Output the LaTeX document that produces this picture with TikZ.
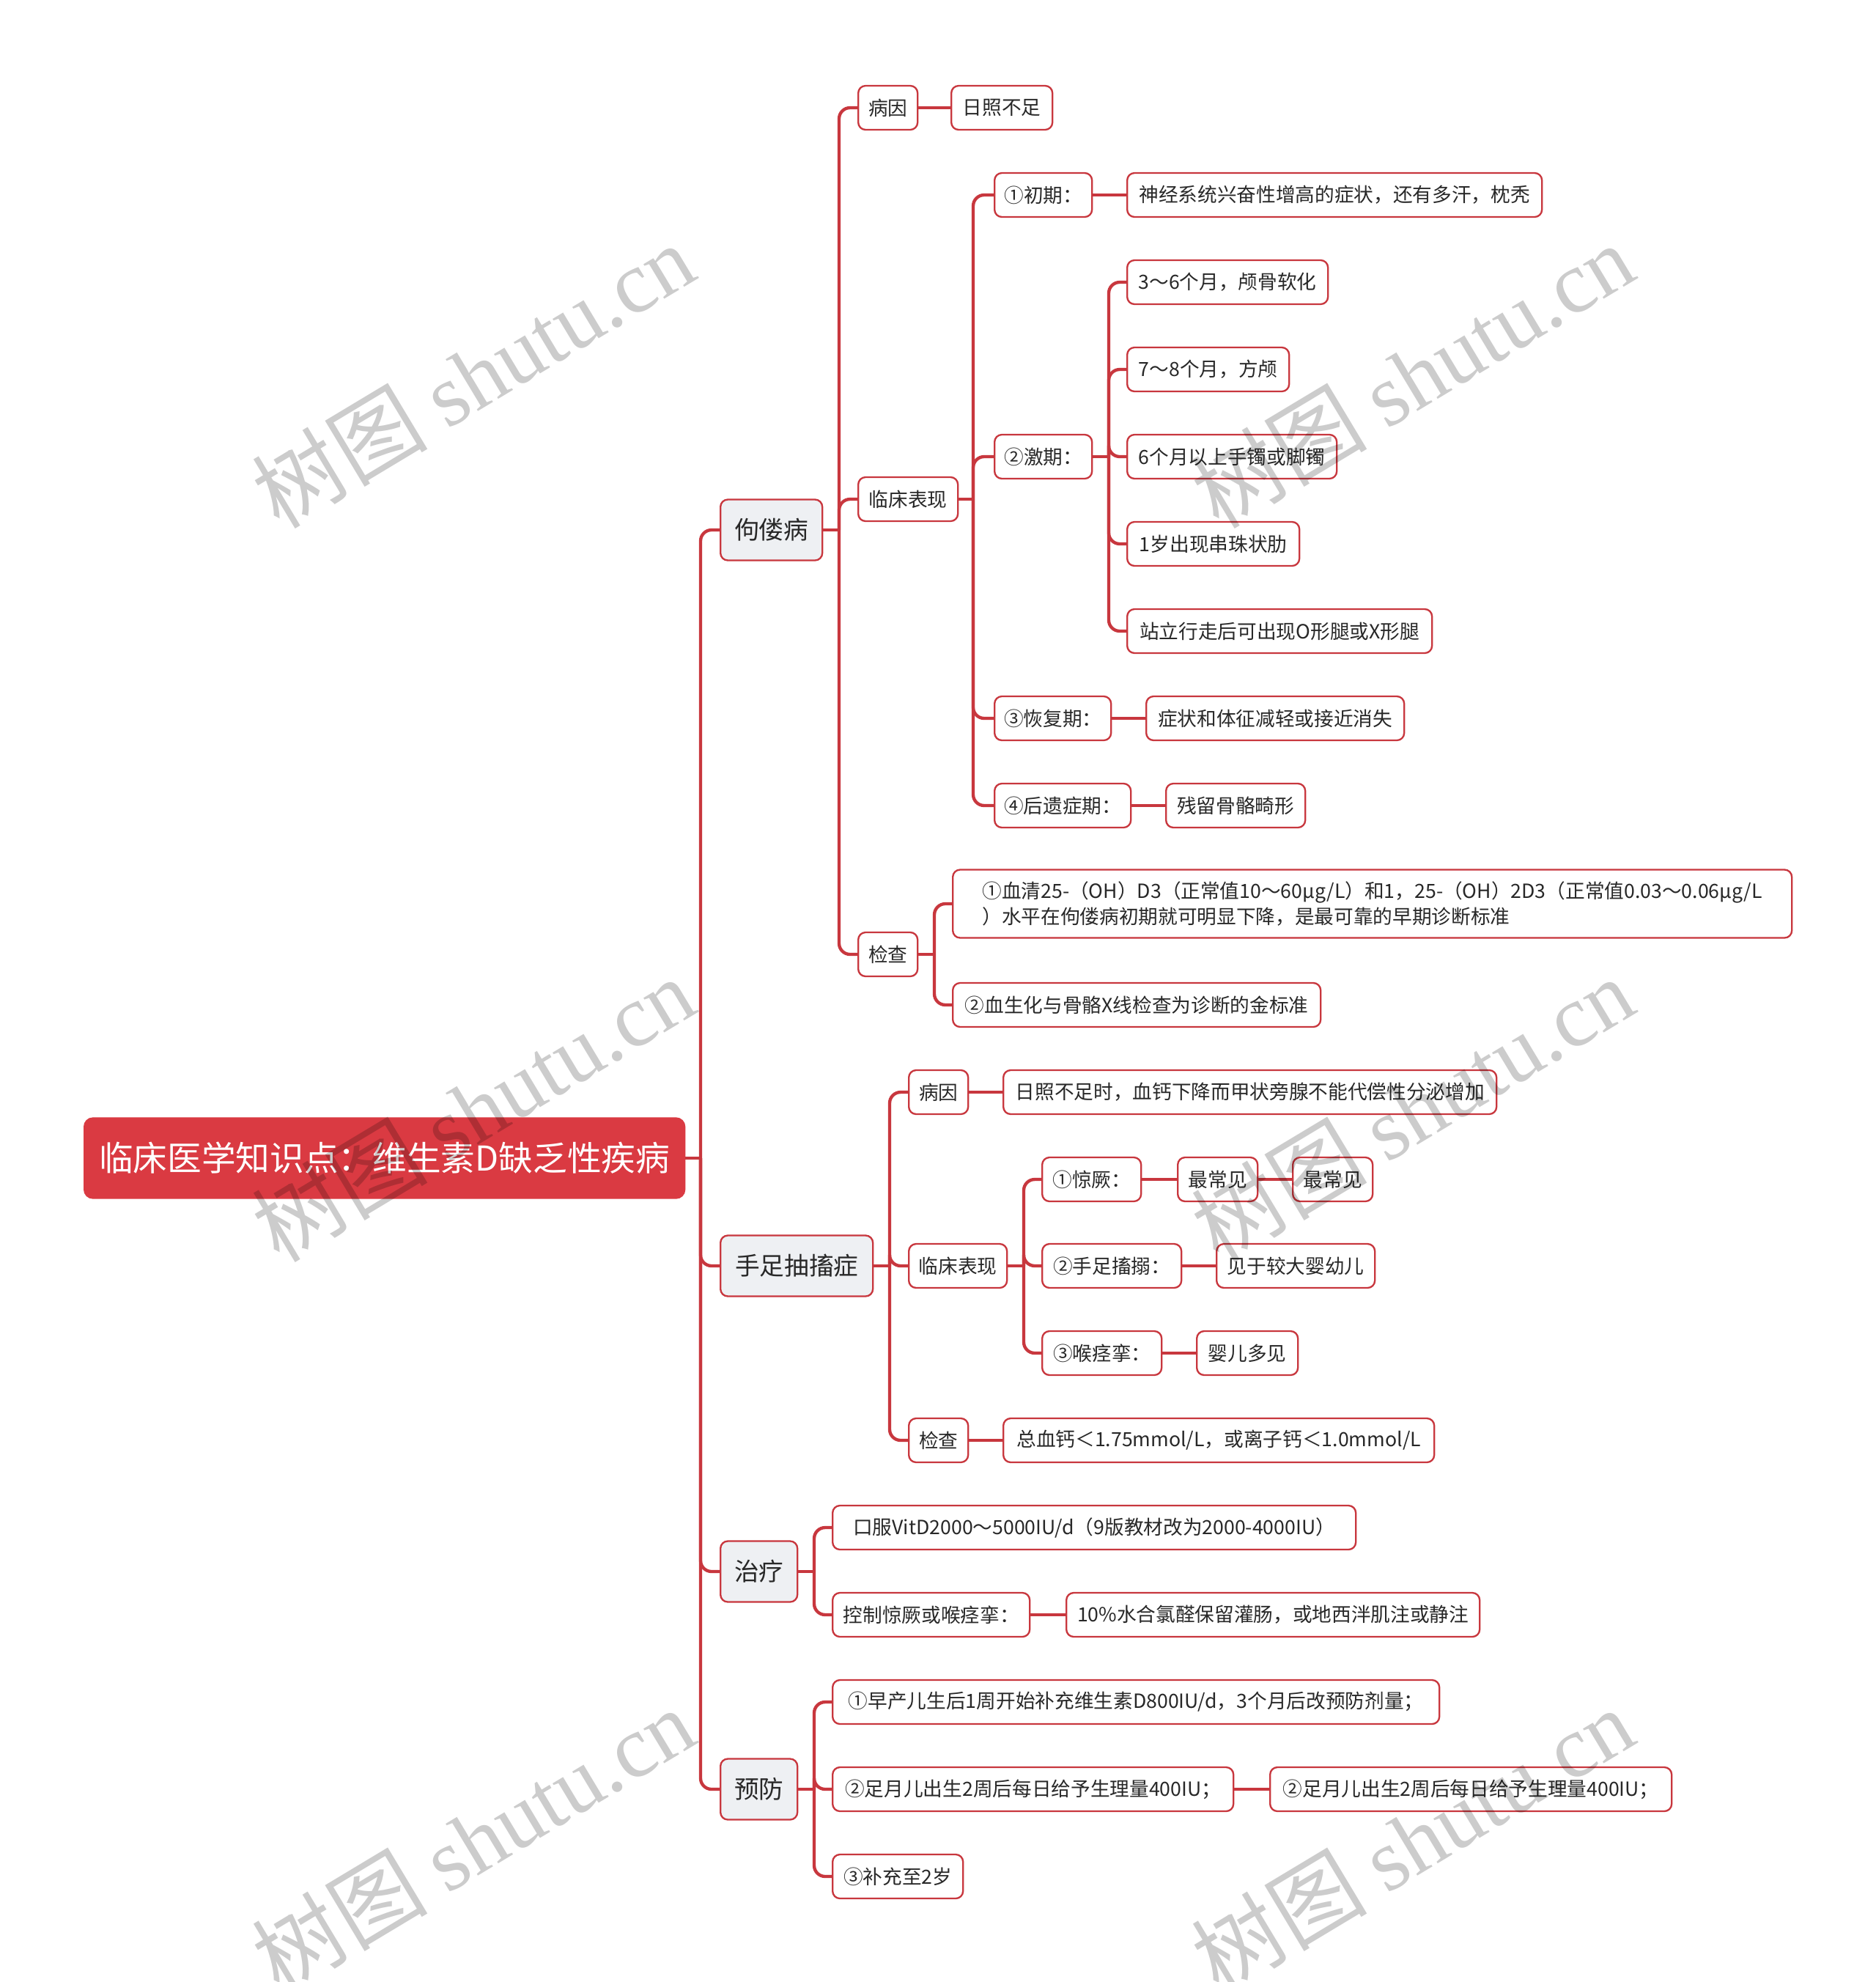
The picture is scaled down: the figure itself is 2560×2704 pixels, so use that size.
\documentclass[tikz,border=0pt]{standalone}
\usepackage{fontspec}
\setmainfont{Noto Sans CJK SC}
\newfontfamily\wmlat{Liberation Serif}
\newfontfamily\wmcjk{Noto Sans CJK SC}
\definecolor{lred}{RGB}{200,55,62}
\definecolor{rootred}{RGB}{218,58,66}
\definecolor{lvlgray}{RGB}{238,240,243}
\definecolor{txt}{RGB}{40,40,40}
\begin{document}
\begin{tikzpicture}[x=0.3pt,y=-0.3pt,
  conn/.style={draw=lred,line width=1.3pt,rounded corners=4.5pt},
  leaf/.style={draw=lred,line width=0.7pt,rounded corners=3pt,fill=white,text=txt,
    font=\fontsize{8}{10.35}\selectfont,minimum height=18pt,inner xsep=0pt,anchor=west},
  lvl/.style={leaf,fill=lvlgray,font=\fontsize{10.1}{12}\selectfont,minimum height=24.9pt},
  bw/.style={minimum width=#1*0.3pt},
  wm/.style={text=black,text opacity=0.2,rotate=31,font=\fontsize{36}{40}\selectfont}
]
\useasboundingbox (0,0) rectangle (2560,2704);
\fill[white] (0,0) rectangle (2560,2704);

% root
\node[draw=rootred,fill=rootred,text=white,rounded corners=3.5pt,line width=0.7pt,
  font=\fontsize{14}{16}\selectfont,minimum height=32.7pt,bw=819,anchor=west,inner xsep=0pt]
  (root) at (114,1580) {临床医学知识点：维生素D缺乏性疾病};

% level 1
\node[lvl,bw=139] (g) at (982,723) {佝偻病};
\node[lvl,bw=208] (s) at (982,1727) {手足抽搐症};
\node[lvl,bw=105] (z) at (982,2144) {治疗};
\node[lvl,bw=105] (y) at (982,2441) {预防};

% 佝偻病
\node[leaf,bw=81] (g1) at (1170,147) {病因};
\node[leaf,bw=138] (g1a) at (1297,147) {日照不足};
\node[leaf,bw=136] (g2) at (1170,681) {临床表现};
\node[leaf,bw=133] (g2a) at (1356,266) {①初期：};
\node[leaf,bw=566] (g2a1) at (1537,266) {神经系统兴奋性增高的症状，还有多汗，枕秃};
\node[leaf,bw=133] (g2b) at (1356,623) {②激期：};
\node[leaf,bw=274] (g2b1) at (1537,385) {3～6个月，颅骨软化};
\node[leaf,bw=221] (g2b2) at (1537,504) {7～8个月，方颅};
\node[leaf,bw=286] (g2b3) at (1537,623) {6个月以上手镯或脚镯};
\node[leaf,bw=235] (g2b4) at (1537,742) {1岁出现串珠状肋};
\node[leaf,bw=416] (g2b5) at (1537,861) {站立行走后可出现O形腿或X形腿};
\node[leaf,bw=159] (g2c) at (1356,980) {③恢复期：};
\node[leaf,bw=352] (g2c1) at (1563,980) {症状和体征减轻或接近消失};
\node[leaf,bw=186] (g2d) at (1356,1099) {④后遗症期：};
\node[leaf,bw=190] (g2d1) at (1590,1099) {残留骨骼畸形};
\node[leaf,bw=81] (g3) at (1170,1302) {检查};
\node[leaf,bw=1145,minimum height=27.9pt,align=left] (g3a) at (1299,1233)
  {①血清25-（OH）D3（正常值10～60μg/L）和1，25-（OH）2D3（正常值0.03～0.06μg/L\\）水平在佝偻病初期就可明显下降，是最可靠的早期诊断标准};
\node[leaf,bw=502] (g3b) at (1299,1371) {②血生化与骨骼X线检查为诊断的金标准};

% 手足抽搐症
\node[leaf,bw=81] (s1) at (1239,1490) {病因};
\node[leaf,bw=673] (s1a) at (1368,1490) {日照不足时，血钙下降而甲状旁腺不能代偿性分泌增加};
\node[leaf,bw=134] (s2) at (1239,1727) {临床表现};
\node[leaf,bw=135] (s2a) at (1421,1609) {①惊厥：};
\node[leaf,bw=109] (s2a1) at (1606,1609) {最常见};
\node[leaf,bw=109] (s2a2) at (1763,1609) {最常见};
\node[leaf,bw=190] (s2b) at (1421,1727) {②手足搐搦：};
\node[leaf,bw=216] (s2b1) at (1659,1727) {见于较大婴幼儿};
\node[leaf,bw=163] (s2c) at (1421,1846) {③喉痉挛：};
\node[leaf,bw=138] (s2c1) at (1632,1846) {婴儿多见};
\node[leaf,bw=81] (s3) at (1239,1965) {检查};
\node[leaf,bw=588] (s3a) at (1368,1965) {总血钙＜1.75mmol/L，或离子钙＜1.0mmol/L};

% 治疗
\node[leaf,bw=714] (z1) at (1135,2084) {口服VitD2000～5000IU/d（9版教材改为2000-4000IU）};
\node[leaf,bw=269] (z2) at (1135,2203) {控制惊厥或喉痉挛：};
\node[leaf,bw=564] (z2a) at (1454,2203) {10\%水合氯醛保留灌肠，或地西泮肌注或静注};

% 预防
\node[leaf,bw=828] (y1) at (1135,2322) {①早产儿生后1周开始补充维生素D800IU/d，3个月后改预防剂量；};
\node[leaf,bw=547] (y2) at (1135,2441) {②足月儿出生2周后每日给予生理量400IU；};
\node[leaf,bw=548] (y2a) at (1732,2441) {②足月儿出生2周后每日给予生理量400IU；};
\node[leaf,bw=178] (y3) at (1135,2560) {③补充至2岁};

% spine coordinates
\coordinate (rs) at (956,1580);
\coordinate (gs) at (1145,723);
\coordinate (g2s) at (1328,681);
\coordinate (g2bs) at (1513,623);
\coordinate (g3s) at (1275,1302);
\coordinate (ss) at (1214,1727);
\coordinate (s2s) at (1397,1727);
\coordinate (zs) at (1111,2144);
\coordinate (ys) at (1111,2441);

% connectors
\draw[conn] (root.east) -- (rs);
\foreach \c in {g,s,z,y} \draw[conn] (rs) |- (\c.west);
\draw[conn] (g.east) -- (gs);
\foreach \c in {g1,g2,g3} \draw[conn] (gs) |- (\c.west);
\draw[conn] (g1.east) -- (g1a.west);
\draw[conn] (g2.east) -- (g2s);
\foreach \c in {g2a,g2b,g2c,g2d} \draw[conn] (g2s) |- (\c.west);
\draw[conn] (g2a.east) -- (g2a1.west);
\draw[conn] (g2b.east) -- (g2bs);
\foreach \c in {g2b1,g2b2,g2b3,g2b4,g2b5} \draw[conn] (g2bs) |- (\c.west);
\draw[conn] (g2c.east) -- (g2c1.west);
\draw[conn] (g2d.east) -- (g2d1.west);
\draw[conn] (g3.east) -- (g3s);
\foreach \c in {g3a,g3b} \draw[conn] (g3s) |- (\c.west);

\draw[conn] (s.east) -- (ss);
\foreach \c in {s1,s2,s3} \draw[conn] (ss) |- (\c.west);
\draw[conn] (s1.east) -- (s1a.west);
\draw[conn] (s2.east) -- (s2s);
\foreach \c in {s2a,s2b,s2c} \draw[conn] (s2s) |- (\c.west);
\draw[conn] (s2a.east) -- (s2a1.west);
\draw[conn] (s2a1.east) -- (s2a2.west);
\draw[conn] (s2b.east) -- (s2b1.west);
\draw[conn] (s2c.east) -- (s2c1.west);
\draw[conn] (s3.east) -- (s3a.west);

\draw[conn] (z.east) -- (zs);
\foreach \c in {z1,z2} \draw[conn] (zs) |- (\c.west);
\draw[conn] (z2.east) -- (z2a.west);

\draw[conn] (y.east) -- (ys);
\foreach \c in {y1,y2,y3} \draw[conn] (ys) |- (\c.west);
\draw[conn] (y2.east) -- (y2a.west);

% watermarks
\node[wm] (w1) at (645,512) {\wmcjk 树图\ \wmlat shutu.cn};
\node[wm] (w2) at (1927,512) {\wmcjk 树图\ \wmlat shutu.cn};
\node[wm] (w3) at (645,1513) {\wmcjk 树图\ \wmlat shutu.cn};
\node[wm] (w4) at (1927,1513) {\wmcjk 树图\ \wmlat shutu.cn};
\node[wm] (w5) at (645,2510) {\wmcjk 树图\ \wmlat shutu.cn};
\node[wm] (w6) at (1927,2510) {\wmcjk 树图\ \wmlat shutu.cn};
\end{tikzpicture}
\end{document}
